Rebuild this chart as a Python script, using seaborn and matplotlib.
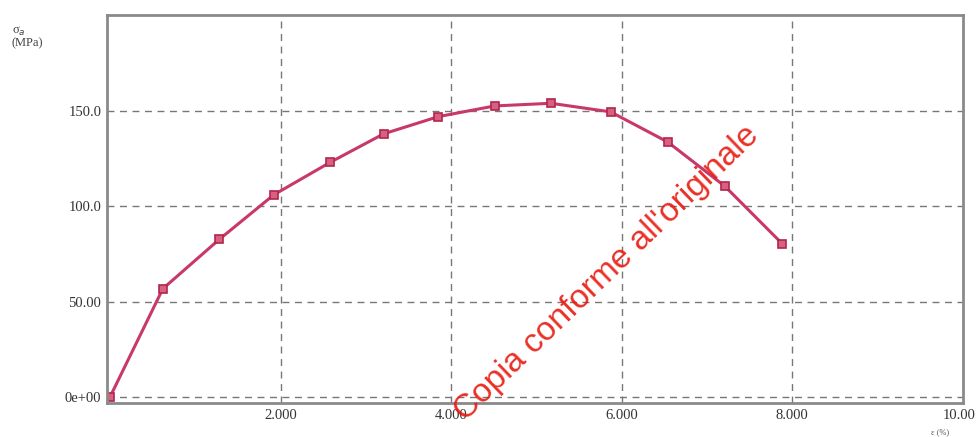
import numpy as np
import pandas as pd
import matplotlib
matplotlib.use('Agg')
import matplotlib.pyplot as plt
import matplotlib.transforms as mtransforms
import seaborn as sns

# dati
strain = [0.0, 0.62, 1.28, 1.92, 2.58, 3.21, 3.85, 4.51, 5.17, 5.87, 6.54, 7.21, 7.88]
stress = [0.0, 56.8, 82.6, 106.0, 123.0, 138.0, 147.0, 152.6, 154.0, 149.5, 133.7, 110.5, 80.5]
x_ticks = [2, 4, 6, 8, 10]
x_labels = ['2.000', '4.000', '6.000', '8.000', '10.00']
y_ticks = [0, 50, 100, 150]
y_labels = ['0e+00', '50.00', '100.0', '150.0']

df = pd.DataFrame({'eps': strain, 'sigma': stress})

sns.set_style('white')
plt.rcParams['font.family'] = ['Liberation Serif', 'DejaVu Serif']

fig = plt.figure(figsize=(9.77, 4.37), dpi=100)
ax = fig.add_axes([0.1095, 0.0778, 0.876, 0.888])

sns.lineplot(data=df, x='eps', y='sigma', ax=ax, color='#c8386a', linewidth=2.2,
             marker='s', markersize=6, markerfacecolor='#d9607f',
             markeredgecolor='#b0264f', markeredgewidth=1.2)

ax.set_xlim(-0.035, 10.0)
ax.set_ylim(-3.1, 200.3)
ax.set_xticks(x_ticks)
ax.set_xticklabels(x_labels)
ax.set_yticks(y_ticks)
ax.set_yticklabels(y_labels)
ax.tick_params(axis='both', length=0, labelsize=10.5, colors='#333333', pad=4)
ax.set_xlabel('')
ax.set_ylabel('')

# ultima etichetta un po' a sinistra per non uscire dal bordo
last = ax.get_xticklabels()[-1]
last.set_transform(last.get_transform() + mtransforms.ScaledTranslation(-4 / 100, 0, fig.dpi_scale_trans))

# griglia tratteggiata
for xv in [2, 4, 6, 8]:
    ax.axvline(xv, color='#777777', linestyle=(0, (5, 4)), linewidth=1.0, zorder=0)
for yv in [0, 50, 100, 150]:
    ax.axhline(yv, color='#777777', linestyle=(0, (5, 4)), linewidth=1.0, zorder=0)

for s in ax.spines.values():
    s.set_color('#8a8a8a')
    s.set_linewidth(2)

fig.text(0.012, 0.915, 'σ$_a$\n(MPa)', fontsize=9, color='#444444', va='center', linespacing=0.9)
fig.text(0.962, 0.003, 'ε (%)', fontsize=6, color='#555555', ha='center', va='bottom')

fig.text(0.621, 0.374, "Copia conforme all'originale", color='#e8190f', fontsize=24,
         family=['Liberation Sans', 'DejaVu Sans'], rotation=44, ha='center', va='center',
         rotation_mode='anchor', alpha=0.9)

fig.savefig('out.png', dpi=100)
